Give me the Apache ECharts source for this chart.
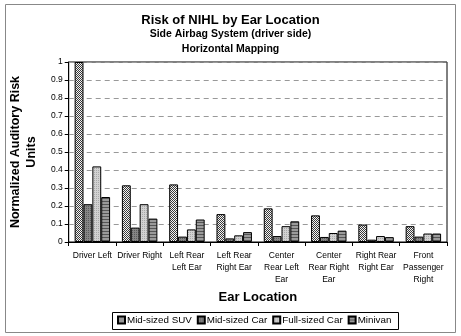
<!DOCTYPE html>
<html>
<head>
<meta charset="utf-8">
<script src="https://cdn.jsdelivr.net/npm/echarts@6/dist/echarts.min.js"></script>
<style>
  html, body { margin: 0; padding: 0; background: #fff; }
  #chart { width: 461px; height: 336px; }
</style>
</head>
<body>
<div id="chart"></div>
<script>
// data
var categories = ['Driver Left', 'Driver Right', 'Left Rear\nLeft Ear', 'Left Rear\nRight Ear',
  'Center\nRear Left\nEar', 'Center\nRear Right\nEar', 'Right Rear\nRight Ear', 'Front\nPassenger\nRight'];
var seriesNames = ['Mid-sized SUV', 'Mid-sized Car', 'Full-sized Car', 'Minivan'];
var suvValues     = [1.0, 0.315, 0.32, 0.155, 0.187, 0.148, 0.097, 0.088];
var midCarValues  = [0.21, 0.08, 0.03, 0.02, 0.033, 0.028, 0.013, 0.03];
var fullCarValues = [0.42, 0.21, 0.07, 0.037, 0.088, 0.05, 0.033, 0.047];
var minivanValues = [0.25, 0.13, 0.125, 0.055, 0.115, 0.063, 0.027, 0.047];

var FONT = 'Liberation Sans';

// little canvas tiles for the hatch fills
function makeTile(w, h, draw) {
  var c = document.createElement('canvas');
  c.width = w; c.height = h;
  var ctx = c.getContext('2d');
  draw(ctx);
  return { image: c, repeat: 'repeat' };
}

var suvFill = makeTile(4, 4, function (ctx) {
  ctx.fillStyle = '#f4f4f4';
  ctx.fillRect(0, 0, 4, 4);
  ctx.fillStyle = '#3a3a3a';
  ctx.fillRect(0, 0, 1, 1); ctx.fillRect(1, 1, 1, 1);
  ctx.fillRect(2, 2, 1, 1); ctx.fillRect(3, 3, 1, 1);
  ctx.fillRect(3, 1, 1, 1); ctx.fillRect(1, 3, 1, 1);
  ctx.fillRect(2, 0, 1, 1); ctx.fillRect(0, 2, 1, 1);
});
var midCarFill = makeTile(2, 2, function (ctx) {
  ctx.fillStyle = '#858585';
  ctx.fillRect(0, 0, 2, 2);
  ctx.fillStyle = '#5a5a5a';
  ctx.fillRect(0, 0, 1, 1);
});
var fullCarFill = makeTile(2, 2, function (ctx) {
  ctx.fillStyle = '#d2d2d2';
  ctx.fillRect(0, 0, 2, 2);
  ctx.fillStyle = '#a8a8a8';
  ctx.fillRect(0, 0, 1, 1);
});
var minivanFill = makeTile(3, 3, function (ctx) {
  ctx.fillStyle = '#9a9a9a';
  ctx.fillRect(0, 0, 3, 3);
  ctx.fillStyle = '#555555';
  ctx.fillRect(0, 0, 3, 1);
});

var fills = [suvFill, midCarFill, fullCarFill, minivanFill];
var values = [suvValues, midCarValues, fullCarValues, minivanValues];

var chart = echarts.init(document.getElementById('chart'), null, { renderer: 'canvas' });

var option = {
  backgroundColor: '#ffffff',
  animation: false,
  textStyle: { fontFamily: FONT },
  title: [
    { text: 'Risk of NIHL by Ear Location', left: 'center', top: 14, padding: 0,
      textStyle: { fontSize: 13, fontWeight: 'bold', color: '#000', fontFamily: FONT } },
    { text: 'Side Airbag System (driver side)', left: 'center', top: 29, padding: 0,
      textStyle: { fontSize: 10.5, fontWeight: 'bold', color: '#000', fontFamily: FONT } },
    { text: 'Horizontal Mapping', left: 'center', top: 44, padding: 0,
      textStyle: { fontSize: 10.5, fontWeight: 'bold', color: '#000', fontFamily: FONT } }
  ],
  graphic: [
    { type: 'rect', shape: { x: 5.5, y: 4.5, width: 450, height: 328 },
      style: { fill: null, stroke: '#888', lineWidth: 1 }, z: -1 },
    { type: 'rect', shape: { x: 112.5, y: 312.5, width: 286, height: 17 },
      style: { fill: null, stroke: '#000', lineWidth: 1 } }
  ],
  legend: {
    data: seriesNames,
    left: 117,
    top: 315,
    padding: 0,
    itemWidth: 7,
    itemHeight: 7,
    itemGap: 5,
    icon: 'rect',
    textStyle: { fontSize: 9.8, color: '#000', fontFamily: FONT, padding: [0, 0, 0, -3] }
  },
  grid: {
    left: 66, right: 14, top: 62, height: 180,
    show: true, borderColor: '#000', borderWidth: 1, backgroundColor: 'transparent'
  },
  xAxis: {
    type: 'category',
    data: categories,
    name: 'Ear Location',
    nameLocation: 'middle',
    nameGap: 48,
    nameTextStyle: { fontSize: 13, fontWeight: 'bold', color: '#000', fontFamily: FONT },
    axisLine: { lineStyle: { color: '#000' } },
    axisTick: { show: true, length: 4, lineStyle: { color: '#000' } },
    axisLabel: { fontSize: 8.5, color: '#000', interval: 0, lineHeight: 12, margin: 8, fontFamily: FONT }
  },
  yAxis: {
    type: 'value',
    min: 0, max: 1, interval: 0.1,
    name: 'Normalized Auditory Risk\nUnits',
    nameLocation: 'middle',
    nameGap: 26,
    nameTextStyle: { fontSize: 12.5, fontWeight: 'bold', color: '#000', lineHeight: 16, fontFamily: FONT },
    axisLine: { show: true, lineStyle: { color: '#000' } },
    axisTick: { show: true, length: 4, lineStyle: { color: '#000' } },
    axisLabel: { fontSize: 8.5, color: '#000', margin: 6, fontFamily: FONT,
      formatter: function (v) { return String(Math.round(v * 10) / 10); } },
    splitLine: { show: true, lineStyle: { color: '#999', type: [5, 4], width: 1 } }
  },
  series: seriesNames.map(function (name, i) {
    return {
      name: name,
      type: 'bar',
      data: values[i],
      barGap: '0%',
      barCategoryGap: '25%',
      itemStyle: { color: fills[i], borderColor: '#000', borderWidth: 1 }
    };
  })
};

chart.setOption(option);
</script>
</body>
</html>
